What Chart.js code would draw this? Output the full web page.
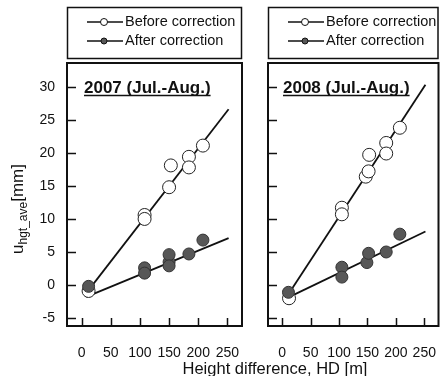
<!DOCTYPE html>
<html>
<head>
<meta charset="utf-8">
<script src="https://cdn.jsdelivr.net/npm/chart.js@4.4.1/dist/chart.umd.min.js"></script>
<style>
  html, body { margin: 0; padding: 0; background: #fff; }
  #wrap { position: relative; width: 446px; height: 376px; font-family: "Liberation Sans", Arial, sans-serif; }
  canvas { position: absolute; top: 0; }
  #left { left: 0; }
  #right { left: 250px; }
  #xtitle { position: absolute; left: 150px; width: 250px; top: 359px; text-align: center; font-size: 16.5px; line-height: 18px; color: #111; }
</style>
</head>
<body>
<div id="wrap">
  <canvas id="left" width="250" height="376"></canvas>
  <canvas id="right" width="196" height="376"></canvas>
  <div id="xtitle">Height difference, HD [m]</div>
</div>
<script>
// tick values
const hdTicks = [0, 50, 100, 150, 200, 250];
const uTicks = [-5, 0, 5, 10, 15, 20, 25, 30];

// 2007 (Jul.-Aug.)
const hd07Before = [12, 108, 108, 150, 153, 184, 184, 208];
const u07Before = [-0.9, 10.6, 10.0, 14.8, 18.1, 19.4, 17.8, 21.1];
const hd07After = [12, 108, 108, 150, 150, 150, 184, 208];
const u07After = [-0.2, 2.6, 1.8, 3.5, 4.6, 2.9, 4.7, 6.8];
const fit07BeforeHd = [10, 252];
const fit07BeforeU = [-1.0, 26.6];
const fit07AfterHd = [8, 252];
const fit07AfterU = [-1.8, 7.1];

// 2008 (Jul.-Aug.)
const hd08Before = [12, 105, 105, 147, 152, 153, 183, 183, 207];
const u08Before = [-2.0, 11.7, 10.7, 16.4, 17.2, 19.7, 21.5, 19.9, 23.8];
const hd08After = [11, 105, 105, 149, 152, 183, 207];
const u08After = [-1.1, 2.7, 1.2, 3.4, 4.8, 5.0, 7.7];
const fit08BeforeHd = [10, 252];
const fit08BeforeU = [-1.5, 30.3];
const fit08AfterHd = [10, 252];
const fit08AfterU = [-1.9, 8.1];

const FONT = '"Liberation Sans", Arial, sans-serif';
const filledColor = '#575757';

const toPoints = (xs, ys) => xs.map((x, i) => ({ x: x, y: ys[i] }));

// frame, inward ticks, legend box, panel title, y title
const panelDecor = {
    id: 'panelDecor',
    afterDraw(chart, args, opts) {
        const ctx = chart.ctx;
        const area = chart.chartArea;
        const xs = chart.scales.x;
        const ys = chart.scales.y;
        ctx.save();
        ctx.strokeStyle = '#111';

        // inward tick marks
        ctx.lineWidth = 1.5;
        ctx.beginPath();
        uTicks.forEach(v => {
            const y = Math.round(ys.getPixelForValue(v)) + 0.5;
            ctx.moveTo(area.left, y);
            ctx.lineTo(area.left + 9, y);
        });
        hdTicks.forEach(v => {
            const x = Math.round(xs.getPixelForValue(v)) + 0.5;
            ctx.moveTo(x, area.bottom);
            ctx.lineTo(x, area.bottom - 8);
        });
        ctx.stroke();

        // plot frame
        ctx.lineWidth = 2;
        ctx.strokeRect(area.left, area.top, area.right - area.left, area.bottom - area.top);

        // legend box
        ctx.lineWidth = 1.5;
        ctx.strokeRect(area.left + 0.5, 7.5, area.right - area.left - 1, 51);
        const rows = [
            { label: chart.data.datasets[2].label, fill: '#fff', r: 3.5, y: 22 },
            { label: chart.data.datasets[3].label, fill: filledColor, r: 3, y: 41 }
        ];
        rows.forEach(row => {
            ctx.lineWidth = 1.5;
            ctx.beginPath();
            ctx.moveTo(area.left + 20, row.y);
            ctx.lineTo(area.left + 56, row.y);
            ctx.stroke();
            ctx.beginPath();
            ctx.arc(area.left + 37, row.y, row.r, 0, Math.PI * 2);
            ctx.fillStyle = row.fill;
            ctx.fill();
            ctx.lineWidth = 1;
            ctx.stroke();
            ctx.fillStyle = '#111';
            ctx.font = '14.5px ' + FONT;
            ctx.textAlign = 'left';
            ctx.textBaseline = 'middle';
            ctx.fillText(row.label, area.left + 58, row.y);
        });

        // panel title, bold and underlined
        ctx.font = 'bold 17px ' + FONT;
        ctx.textBaseline = 'alphabetic';
        const tx = area.left + opts.titleOffset;
        const ty = area.top + 30;
        ctx.fillText(opts.title, tx, ty);
        const w = ctx.measureText(opts.title).width;
        ctx.lineWidth = 1.3;
        ctx.beginPath();
        ctx.moveTo(tx, ty + 2.5);
        ctx.lineTo(tx + w, ty + 2.5);
        ctx.stroke();

        // y axis title with subscript
        if (opts.yTitle) {
            ctx.translate(18, 209);
            ctx.rotate(-Math.PI / 2);
            const big = '17px ' + FONT;
            const small = '12px ' + FONT;
            ctx.font = big;
            const w1 = ctx.measureText('u').width;
            const w3 = ctx.measureText('[mm]').width;
            ctx.font = small;
            const w2 = ctx.measureText('hgt_ave').width;
            let x0 = -(w1 + w2 + w3) / 2;
            ctx.textBaseline = 'middle';
            ctx.font = big;
            ctx.fillText('u', x0, 0);
            ctx.font = small;
            ctx.fillText('hgt_ave', x0 + w1, 6);
            ctx.font = big;
            ctx.fillText('[mm]', x0 + w1 + w2, 0);
        }
        ctx.restore();
    }
};

function makePanel(canvasId, p) {
    return new Chart(document.getElementById(canvasId), {
        type: 'scatter',
        data: {
            datasets: [
                {
                    type: 'line', label: 'fit before', data: toPoints(p.fitBeforeHd, p.fitBeforeU),
                    borderColor: '#111', borderWidth: 1.8, pointRadius: 0, order: 4
                },
                {
                    type: 'line', label: 'fit after', data: toPoints(p.fitAfterHd, p.fitAfterU),
                    borderColor: '#111', borderWidth: 1.8, pointRadius: 0, order: 3
                },
                {
                    label: 'Before correction', data: toPoints(p.hdBefore, p.uBefore),
                    pointRadius: 6.5, pointBackgroundColor: '#fff', pointBorderColor: '#222',
                    pointBorderWidth: 1, order: 2
                },
                {
                    label: 'After correction', data: toPoints(p.hdAfter, p.uAfter),
                    pointRadius: 6, pointBackgroundColor: filledColor, pointBorderColor: '#333',
                    pointBorderWidth: 1, order: 1
                }
            ]
        },
        options: {
            responsive: false,
            devicePixelRatio: 1,
            animation: false,
            layout: { padding: { top: 63, right: p.padRight, left: 0, bottom: 0 } },
            scales: {
                x: {
                    type: 'linear', min: -25, max: 275,
                    grid: { display: false, drawTicks: false }, border: { display: false },
                    afterBuildTicks: s => { s.ticks = hdTicks.map(v => ({ value: v })); },
                    afterFit: s => { s.height = 50; s.paddingLeft = 0; s.paddingRight = 0; },
                    ticks: { autoSkip: false, maxRotation: 0, padding: 19, color: '#111', font: { family: FONT, size: 14 } }
                },
                y: {
                    type: 'linear', min: -6.2, max: 33.6,
                    grid: { display: false, drawTicks: false }, border: { display: false },
                    afterBuildTicks: s => { s.ticks = uTicks.map(v => ({ value: v })); },
                    afterFit: s => { s.width = p.yWidth; s.paddingTop = 0; s.paddingBottom = 0; },
                    ticks: { display: p.yLabels, padding: 12, color: '#111', font: { family: FONT, size: 14 } }
                }
            },
            plugins: {
                legend: { display: false },
                tooltip: { enabled: false },
                panelDecor: { title: p.title, titleOffset: p.titleOffset, yTitle: p.yLabels }
            }
        },
        plugins: [panelDecor]
    });
}

makePanel('left', {
    title: '2007 (Jul.-Aug.)', titleOffset: 17, yLabels: true, yWidth: 67, padRight: 8,
    hdBefore: hd07Before, uBefore: u07Before, hdAfter: hd07After, uAfter: u07After,
    fitBeforeHd: fit07BeforeHd, fitBeforeU: fit07BeforeU, fitAfterHd: fit07AfterHd, fitAfterU: fit07AfterU
});
makePanel('right', {
    title: '2008 (Jul.-Aug.)', titleOffset: 15, yLabels: false, yWidth: 18, padRight: 2,
    hdBefore: hd08Before, uBefore: u08Before, hdAfter: hd08After, uAfter: u08After,
    fitBeforeHd: fit08BeforeHd, fitBeforeU: fit08BeforeU, fitAfterHd: fit08AfterHd, fitAfterU: fit08AfterU
});
</script>
</body>
</html>
